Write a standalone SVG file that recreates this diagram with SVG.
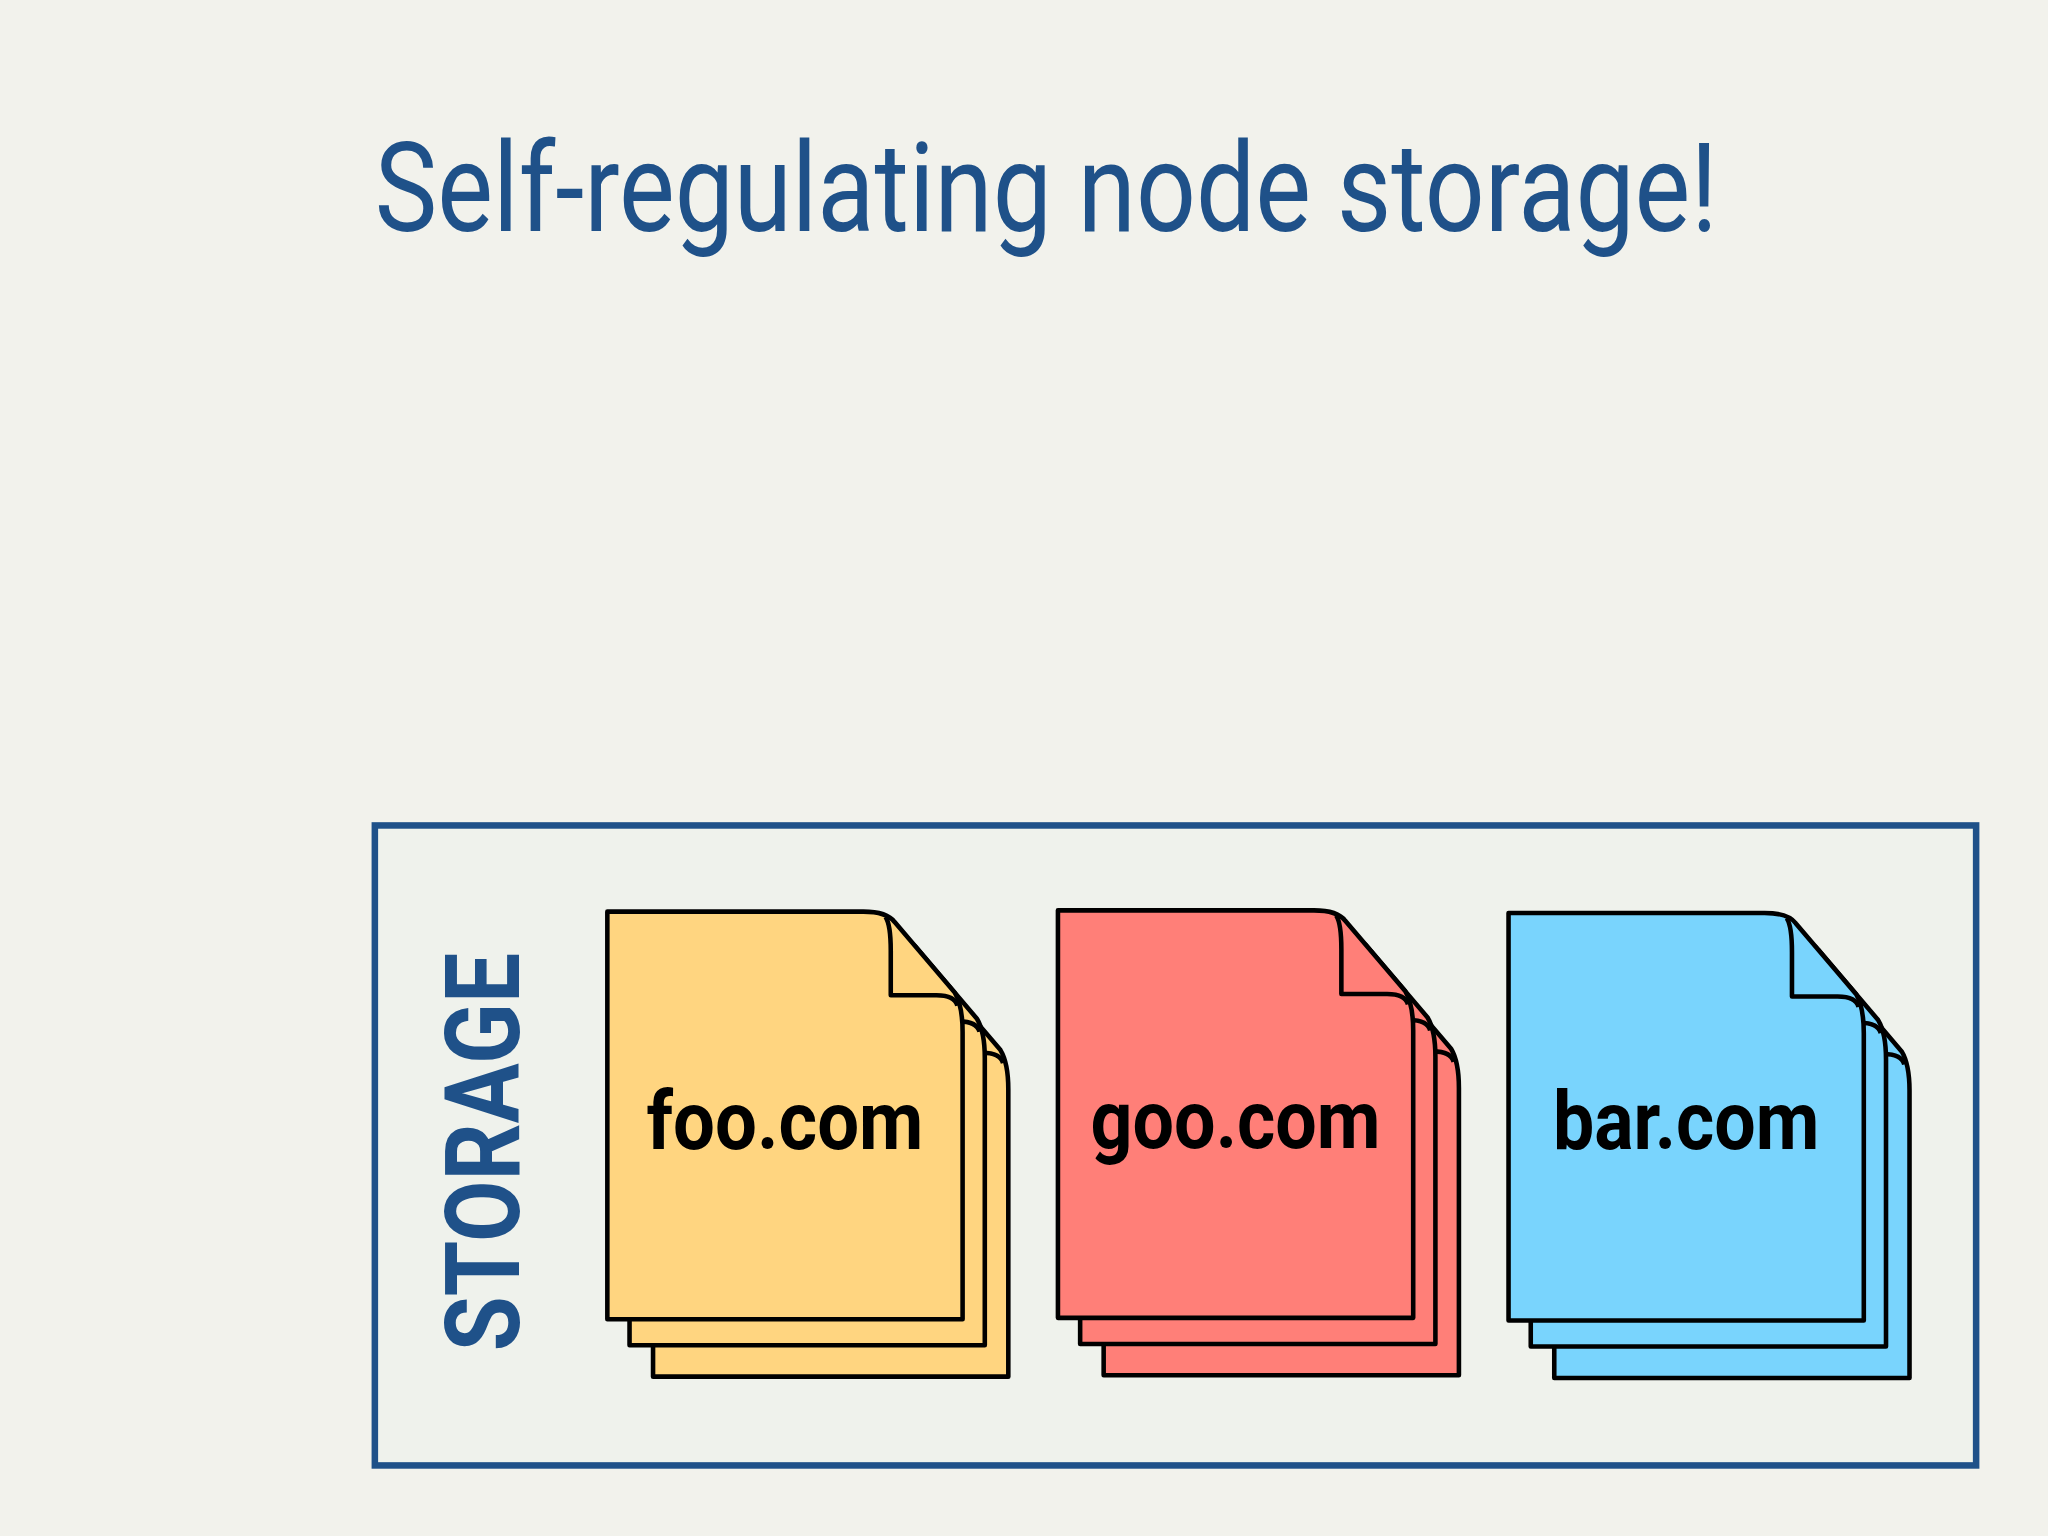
<svg xmlns="http://www.w3.org/2000/svg" width="2048" height="1536" viewBox="0 0 2048 1536">
<defs>
<style>
.pg{stroke:#000;stroke-width:3.5;stroke-linejoin:round}
.fold{fill:none;stroke:#000;stroke-width:3.5;stroke-linejoin:round}
.lbl{font-family:Roboto,"Liberation Sans",sans-serif;font-weight:bold;font-size:62px;fill:#000}
</style>
<path id="page" d="M0,0 H196 Q214,0 220,8 L266,62 Q272,72 272,92 V312 H0 Z"/>
<path id="fl" d="M213,4 Q217,10 217,30 V64 H252 Q266,64 268,72"/>
</defs>
<rect width="2048" height="1536" fill="#f2f2ec"/>
<g transform="scale(1.3061)">
<text x="287" y="177" font-family="Roboto,'Liberation Sans',sans-serif" font-size="95" fill="#1f5189" textLength="1028" lengthAdjust="spacingAndGlyphs">Self-regulating node storage!</text>
<g id="storage">
<rect x="287" y="632" width="1226" height="490" fill="#eff2ec" stroke="#1f5189" stroke-width="5"/>
<text transform="translate(397,882) rotate(-90)" text-anchor="middle" font-family="Roboto,'Liberation Sans',sans-serif" font-weight="bold" font-size="80" fill="#1f5189" textLength="305" lengthAdjust="spacingAndGlyphs">STORAGE</text>
</g>
<g id="foo" fill="#ffd580">
<use href="#page" class="pg" transform="translate(500,742)"/><use href="#fl" class="fold" transform="translate(500,742)"/>
<use href="#page" class="pg" transform="translate(482,718)"/><use href="#fl" class="fold" transform="translate(482,718)"/>
<use href="#page" class="pg" transform="translate(465,698)"/><use href="#fl" class="fold" transform="translate(465,698)"/>
<text class="lbl" x="601" y="880" text-anchor="middle" textLength="212" lengthAdjust="spacingAndGlyphs">foo.com</text>
</g>
<g id="goo" fill="#ff7f78">
<use href="#page" class="pg" transform="translate(845,741)"/><use href="#fl" class="fold" transform="translate(845,741)"/>
<use href="#page" class="pg" transform="translate(827,717)"/><use href="#fl" class="fold" transform="translate(827,717)"/>
<use href="#page" class="pg" transform="translate(810,697)"/><use href="#fl" class="fold" transform="translate(810,697)"/>
<text class="lbl" x="946" y="879" text-anchor="middle" textLength="222" lengthAdjust="spacingAndGlyphs">goo.com</text>
</g>
<g id="bar" fill="#79d4fd">
<use href="#page" class="pg" transform="translate(1190,743)"/><use href="#fl" class="fold" transform="translate(1190,743)"/>
<use href="#page" class="pg" transform="translate(1172,719)"/><use href="#fl" class="fold" transform="translate(1172,719)"/>
<use href="#page" class="pg" transform="translate(1155,699)"/><use href="#fl" class="fold" transform="translate(1155,699)"/>
<text class="lbl" x="1291" y="880" text-anchor="middle" textLength="204" lengthAdjust="spacingAndGlyphs">bar.com</text>
</g>
<g id="connectors"/>
</g>
</svg>
